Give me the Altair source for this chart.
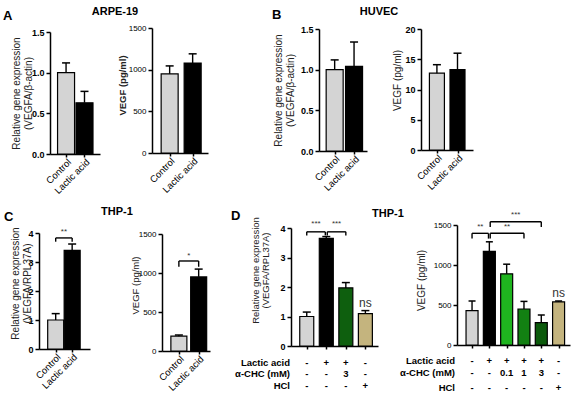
import altair as alt
import pandas as pd

FONT = "Liberation Sans"
H_TOTAL = 409

# ---------------- data ----------------
pair_labels = ["Control", "Lactic acid"]
pair_colors = ["#d4d4d4", "#000000"]

arpe_gene_mean = [1.00, 0.63]
arpe_gene_upper = [1.12, 0.77]
arpe_vegf_mean = [950, 1080]
arpe_vegf_upper = [1045, 1190]

huvec_gene_mean = [1.00, 1.04]
huvec_gene_upper = [1.12, 1.34]
huvec_vegf_mean = [12.7, 13.3]
huvec_vegf_upper = [14.1, 16.0]

thp_gene_mean = [1.00, 3.40]
thp_gene_upper = [1.22, 3.62]
thp_vegf_mean = [190, 950]
thp_vegf_upper = [205, 1050]

d_gene_mean = [1.00, 3.65, 1.97, 1.10]
d_gene_upper = [1.15, 3.71, 2.15, 1.20]
d_gene_colors = ["#d4d4d4", "#000000", "#0e5f0e", "#c4b47e"]
d_gene_lactic = ["-", "+", "+", "-"]
d_gene_chc = ["-", "-", "3", "-"]
d_gene_hcl = ["-", "-", "-", "+"]

d_vegf_mean = [430, 1170, 890, 450, 280, 540]
d_vegf_upper = [550, 1290, 1010, 545, 375, 550]
d_vegf_colors = ["#d4d4d4", "#000000", "#1fb51f", "#128012", "#0b5a0b", "#c4b47e"]
d_vegf_lactic = ["-", "+", "+", "+", "+", "-"]
d_vegf_chc = ["-", "-", "0.1", "1", "3", "-"]
d_vegf_hcl = ["-", "-", "-", "-", "-", "+"]

# significance brackets: from, to, bracket height, drop end, label, label height
c_gene_sig = [(0, 1, 3.83, 3.70, "**", 4.05)]
c_vegf_sig = [(0, 1, 1154, 1080, "*", 1215)]
d_gene_sig = [(0, 0.95, 3.87, 3.75, "***", 4.15), (1.05, 2, 3.87, 3.75, "***", 4.15)]
d_vegf_sig = [(0, 0.95, 1396, 1330, "**", 1479), (1.05, 3, 1396, 1330, "**", 1479),
              (1.05, 4, 1541, 1475, "***", 1625)]


def panel(means, uppers, colors, labels, *, xr, xdom, yr, ydom, yvals, yfmt, ytitle,
          title_x, title_y, title_size=10, title_bold=False, title_lh=12,
          lab_bold=True, lab_size=9, bar_w=17, cap_w=8,
          sig=None, ns_y=None, table=None):
    n = len(means)
    df = pd.DataFrame({"pos": list(range(n)), "mean": means, "upper": uppers,
                       "color": colors, "name": labels})
    xs = alt.Scale(domain=xdom, range=xr, nice=False, zero=False)
    ys = alt.Scale(domain=ydom, range=yr, nice=False, zero=False)
    xaxis = alt.Axis(orient="bottom", offset=-(H_TOTAL - yr[0]), values=list(range(n)),
                     labels=False, tickSize=3, title=None)
    yaxis = alt.Axis(orient="left", offset=-xr[0], values=yvals, format=yfmt,
                     title=ytitle, titleX=title_x - xr[0], titleY=title_y,
                     titleAngle=270, titleAlign="center", titleBaseline="middle",
                     titleFontSize=title_size, titleLineHeight=title_lh,
                     titleFontWeight="bold" if title_bold else "normal",
                     labelFontSize=lab_size, labelFontWeight="bold" if lab_bold else "normal",
                     labelPadding=2, tickSize=4)
    bars = alt.Chart(df).mark_bar(width=bar_w, stroke="black", strokeWidth=1.2).encode(
        x=alt.X("pos:Q", scale=xs, axis=xaxis),
        y=alt.Y("mean:Q", scale=ys, axis=yaxis),
        y2=alt.Y2(datum=0),
        fill=alt.Fill("color:N", scale=None),
    )
    err = alt.Chart(df).mark_rule(color="black", strokeWidth=1.4).encode(
        x="pos:Q", y="mean:Q", y2="upper:Q")
    cap = alt.Chart(df).mark_tick(orient="horizontal", size=cap_w, thickness=1.5,
                                  color="black", opacity=1).encode(
        x="pos:Q", y="upper:Q")
    layers = [bars, err, cap]
    if any(labels):
        layers.append(alt.Chart(df).mark_text(
            angle=315, align="right", baseline="middle", dx=2, dy=3, font=FONT,
            fontSize=9.5, fontWeight="normal", color="black").encode(
            x="pos:Q", y=alt.value(yr[0] + 6), text="name:N"))
    if sig:
        sdf = pd.DataFrame(sig, columns=["a", "b", "h", "lo", "label", "ly"])
        drops = pd.DataFrame([(r[0], r[2], r[3]) for r in sig] + [(r[1], r[2], r[3]) for r in sig],
                             columns=["x", "h", "lo"])
        layers.append(alt.Chart(sdf).mark_rule(color="black", strokeWidth=1.4).encode(
            x="a:Q", x2="b:Q", y="h:Q"))
        layers.append(alt.Chart(drops).mark_rule(color="black", strokeWidth=1.4).encode(
            x="x:Q", y="h:Q", y2="lo:Q"))
        layers.append(alt.Chart(sdf).transform_calculate(lx="(datum.a + datum.b) / 2")
                      .mark_text(fontSize=8, color="#333", font=FONT, baseline="middle").encode(
            x="lx:Q", y="ly:Q", text="label:N"))
    if ns_y is not None:
        nsdf = pd.DataFrame({"pos": [n - 1], "v": [ns_y], "t": ["ns"]})
        layers.append(alt.Chart(nsdf).mark_text(fontSize=12, color="#333", font=FONT,
                                                baseline="middle").encode(
            x="pos:Q", y="v:Q", text="t:N"))
    if table:
        rows, row_y, label_x = table
        for (rname, vals), yy in zip(rows, row_y):
            tdf = pd.DataFrame({"pos": list(range(n)), "t": vals})
            layers.append(alt.Chart(tdf).mark_text(fontSize=9.5, fontWeight="bold", font=FONT,
                                                   baseline="middle", color="black").encode(
                x="pos:Q", y=alt.value(yy), text="t:N"))
            layers.append(alt.Chart(pd.DataFrame({"t": [rname]})).mark_text(
                fontSize=9.5, fontWeight="bold", font=FONT, align="right",
                baseline="middle", color="black").encode(
                x=alt.value(label_x), y=alt.value(yy), text="t:N"))
    return alt.layer(*layers)


gene_beta = ["Relative gene expression", "(VEGFA/β-actin)"]
gene_rpl = ["Relative gene expression", "(VEGFA/RPL37A)"]

A1 = panel(arpe_gene_mean, arpe_gene_upper, pair_colors, pair_labels,
           xr=[50, 100], xdom=[-0.6, 1.57], yr=[154, 32], ydom=[0, 1.5],
           yvals=[0, 0.5, 1, 1.5], yfmt=".1f", ytitle=gene_beta, title_x=16, title_y=93)
A2 = panel(arpe_vegf_mean, arpe_vegf_upper, pair_colors, pair_labels,
           xr=[152, 208], xdom=[-0.55, 1.45], yr=[153, 28], ydom=[0, 1500],
           yvals=[0, 500, 1000, 1500], yfmt="d", ytitle="VEGF (pg/ml)",
           title_x=122, title_y=85, title_size=9.5, title_bold=True,
           lab_bold=False, lab_size=8)
B1 = panel(huvec_gene_mean, huvec_gene_upper, pair_colors, pair_labels,
           xr=[319, 367], xdom=[-0.55, 1.41], yr=[151, 29], ydom=[0, 1.5],
           yvals=[0, 0.5, 1, 1.5], yfmt=".1f", ytitle=gene_beta, title_x=278.5, title_y=90)
B2 = panel(huvec_vegf_mean, huvec_vegf_upper, pair_colors, pair_labels,
           xr=[421, 473], xdom=[-0.53, 1.51], yr=[150, 29], ydom=[0, 20],
           yvals=[0, 5, 10, 15, 20], yfmt="d", ytitle="VEGF (pg/ml)",
           title_x=397, title_y=80, bar_w=15)
C1 = panel(thp_gene_mean, thp_gene_upper, pair_colors, pair_labels,
           xr=[39, 90], xdom=[-0.71, 1.78], yr=[349, 233], ydom=[0, 4],
           yvals=[0, 1, 2, 3, 4], yfmt="d", ytitle=gene_rpl, title_x=15.5, title_y=283,
           bar_w=16, sig=c_gene_sig)
C2 = panel(thp_vegf_mean, thp_vegf_upper, pair_colors, pair_labels,
           xr=[162, 210], xdom=[-0.6, 1.32], yr=[351, 234], ydom=[0, 1500],
           yvals=[0, 500, 1000, 1500], yfmt="d", ytitle="VEGF (pg/ml)",
           title_x=135, title_y=285, title_size=9.5, lab_bold=False, lab_size=8,
           bar_w=16, sig=c_vegf_sig)
D1 = panel(d_gene_mean, d_gene_upper, d_gene_colors, ["", "", "", ""],
           xr=[291, 378], xdom=[-0.55, 3.39], yr=[346, 228], ydom=[0, 4],
           yvals=[0, 1, 2, 3, 4], yfmt="d", ytitle=gene_rpl, title_x=255, title_y=270,
           title_size=9.5, title_lh=10.5, bar_w=14, sig=d_gene_sig,
           ns_y=1.46,
           table=([("Lactic acid", d_gene_lactic), ("α-CHC (mM)", d_gene_chc), ("HCl", d_gene_hcl)],
                  [363, 374, 386], 290))
D2 = panel(d_vegf_mean, d_vegf_upper, d_vegf_colors, ["", "", "", "", "", ""],
           xr=[457, 570], xdom=[-0.58, 5.37], yr=[345, 225], ydom=[0, 1500],
           yvals=[0, 500, 1000, 1500], yfmt="d", ytitle="VEGF (pg/ml)",
           title_x=421.5, title_y=280, lab_bold=False, lab_size=8, bar_w=12, cap_w=7,
           sig=d_vegf_sig, ns_y=650,
           table=([("Lactic acid", d_vegf_lactic), ("α-CHC (mM)", d_vegf_chc), ("HCl", d_vegf_hcl)],
                  [361, 373, 388], 455))


def label(text, x, y, size, align="center"):
    return alt.Chart(pd.DataFrame({"t": [text]})).mark_text(
        fontSize=size, fontWeight="bold", font=FONT, align=align, baseline="middle",
        color="black").encode(x=alt.value(x), y=alt.value(y), text="t:N")


texts = [
    label("A", 3, 16, 13, "left"), label("ARPE-19", 115, 12, 11),
    label("B", 272, 15, 13, "left"), label("HUVEC", 379, 12, 11),
    label("C", 4, 217, 13, "left"), label("THP-1", 117, 212, 11),
    label("D", 231, 216, 13, "left"), label("THP-1", 388, 214, 11),
]

chart = alt.layer(A1, A2, B1, B2, C1, C2, D1, D2, *texts).resolve_scale(
    x="independent", y="independent"
).properties(
    width=579, height=409, padding=0, autosize=alt.AutoSizeParams(type="none"),
    background="white"
).configure_view(stroke=None).configure_axis(
    grid=False, domainColor="black", tickColor="black", labelColor="black",
    titleColor="#222", labelFont=FONT, titleFont=FONT, domainWidth=1.5, tickWidth=1.5,
    labelFlush=False, labelOverlap=False
)

chart.save("out.html", embed_options={"renderer": "svg", "actions": False})
